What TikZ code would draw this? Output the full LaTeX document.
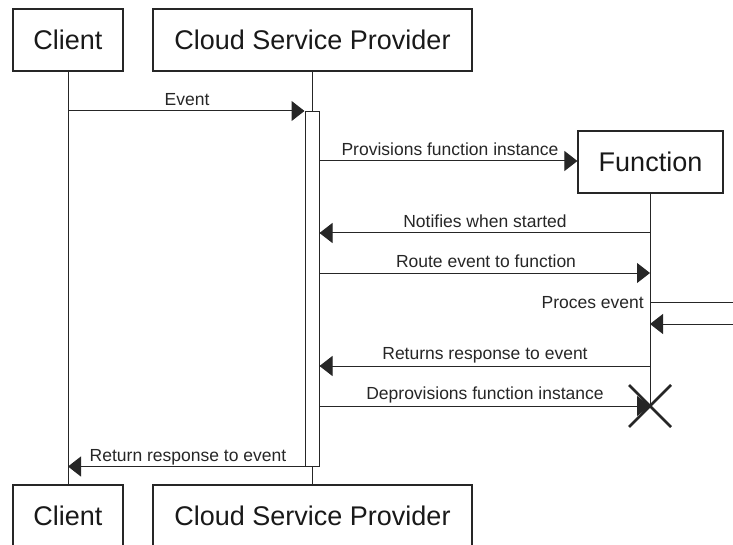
\documentclass[tikz,border=0pt]{standalone}
\usepackage{fontspec}
\setmainfont{Liberation Sans}
\usetikzlibrary{arrows.meta}
\begin{document}
\begin{tikzpicture}[x=1pt,y=-1pt,
  actor/.style={draw=black!85, line width=1.2pt, minimum height=62pt, font=\fontsize{27}{27}\selectfont, inner sep=0pt, text=black!90},
  lbl/.style={font=\fontsize{17.5}{17.5}\selectfont, inner sep=0pt, text=black!85, anchor=base},
  msg/.style={draw=black!85, line width=1pt, -{Triangle[length=13pt,width=20pt]}},
  life/.style={draw=black!85, line width=1pt}]
\useasboundingbox (0,0) rectangle (733,545);
% participants
\node[actor, minimum width=110pt] (c1) at (68,40) {Client};
\node[actor, minimum width=319pt] (p1) at (312.5,40) {Cloud Service Provider};
\node[actor, minimum width=110pt] (c2) at (68,516) {Client};
\node[actor, minimum width=319pt] (p2) at (312.5,516) {Cloud Service Provider};
\node[actor, minimum width=145pt] (f) at (650.5,162) {Function};
% activation
\node[draw=black!85, line width=1pt, fill=white, minimum width=14pt, minimum height=354pt, inner sep=0pt] (act) at (312,289) {};
\coordinate (fx) at (650,406);
% lifelines
\draw[life] (c1.south) -- (c2.north);
\draw[life] (p1.south -| act.north) -- (act.north);
\draw[life] (act.south) -- (act.south |- p2.north);
\draw[life] (f.south -| fx) -- (fx);
% messages
\draw[msg] (c1.south |- 0,111) -- (act.west |- 0,111);
\node[lbl] (l1) at (187,106) {Event};
\draw[msg] (act.east |- 0,161) -- (f.west |- 0,161);
\node[lbl] (l2) at (450,156) {Provisions function instance};
\draw[msg] (fx |- 0,233) -- (act.east |- 0,233);
\node[lbl] (l3) at (485,228) {Notifies when started};
\draw[msg] (act.east |- 0,273) -- (fx |- 0,273);
\node[lbl] (l4) at (486,268) {Route event to function};
\draw[msg] (fx |- 0,302) -- (745,302) -- (745,324) -- (fx |- 0,324);
\node[lbl, anchor=base east] (l5) at (644,308) {Proces event};
\draw[msg] (fx |- 0,366) -- (act.east |- 0,366);
\node[lbl] (l6) at (485,359) {Returns response to event};
\draw[msg] (act.east |- fx) -- (fx);
\node[lbl] (l7) at (485,399) {Deprovisions function instance};
\draw[line width=2.5pt, black!85] (fx) ++(-21,-21) -- ++(42,42);
\draw[line width=2.5pt, black!85] (fx) ++(21,-21) -- ++(-42,42);
\draw[msg] (act.south west) -- (c1.south |- act.south);
\node[lbl] (l8) at (188,461) {Return response to event};
\end{tikzpicture}
\end{document}
